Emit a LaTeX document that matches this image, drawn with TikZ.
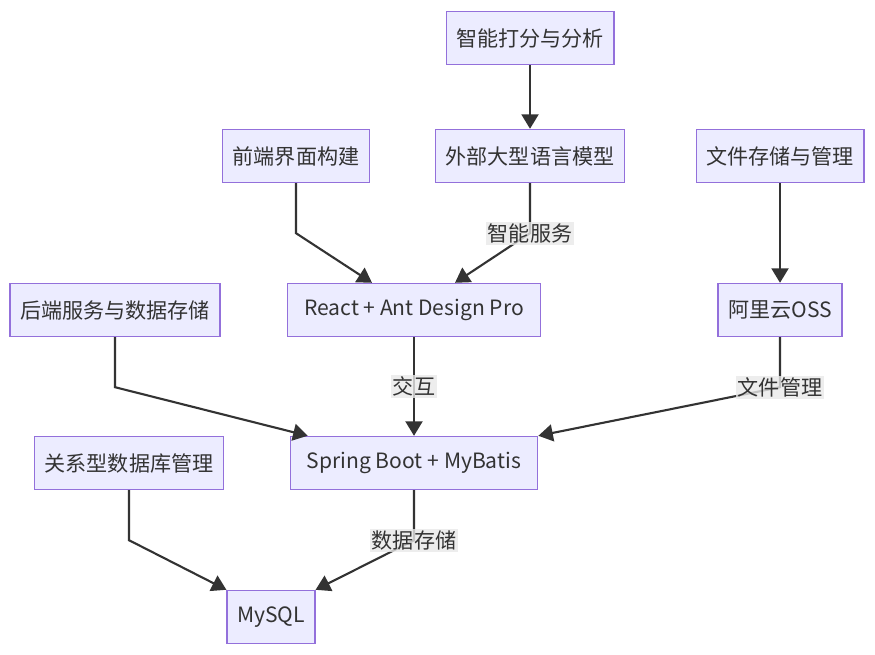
\documentclass[tikz,border=0pt]{standalone}
\usepackage{fontspec}
\setmainfont{Noto Sans CJK SC}
\usetikzlibrary{arrows.meta,calc}

\definecolor{nodefill}{HTML}{ECECFF}
\definecolor{nodeline}{HTML}{9370DB}
\definecolor{edgeline}{HTML}{333333}
\definecolor{labelfill}{HTML}{E8E8E8}

\tikzset{
  box/.style={draw=nodeline, fill=nodefill, line width=0.8pt, minimum height=1.06cm,
    inner xsep=0.2cm, text=edgeline, font=\fontsize{12pt}{14pt}\selectfont},
  widebox/.style={box, inner xsep=0.33cm},
  link/.style={draw=edgeline, line width=1.2pt, -{Triangle[length=0.29cm,width=0.34cm]}},
  tag/.style={fill=labelfill, fill opacity=0.8, text opacity=1, text=edgeline,
    inner sep=1pt, font=\fontsize{12pt}{14pt}\selectfont}
}

\begin{document}
\begin{tikzpicture}[x=0.02cm, y=-0.02cm]
    \useasboundingbox (0,0) rectangle (875,655);

    \node[box] (score) at (530,38) {智能打分与分析};
    \node[box] (front) at (296,156) {前端界面构建};
    \node[box] (llm) at (530,156) {外部大型语言模型};
    \node[box] (files) at (780,156) {文件存储与管理};
    \node[box] (back) at (115,310) {后端服务与数据存储};
    \node[widebox] (react) at (414,310) {React + Ant Design Pro};
    \node[box] (oss) at (780,310) {阿里云OSS};
    \node[box] (rdb) at (129,463) {关系型数据库管理};
    \node[widebox] (spring) at (414,463) {Spring Boot + MyBatis};
    \node[box] (mysql) at (271,617) {MySQL};

    \draw[link] (score) -- (llm);
    \draw[link] (files) -- (oss);

    \draw[link] (front.south) -- ++(0,50) -- ($(react.north)+(-42,0)$);
    \draw[link] (llm.south) -- ++(0,50) node[tag] {智能服务} -- ($(react.north)+(41,0)$);

    \draw[link] (react) -- node[tag] {交互} (spring);
    \draw[link] (back.south) -- ++(0,50) -- ($(spring.north west)+(18,0)$);
    \draw[link] (oss.south) -- ++(0,50) node[tag] {文件管理} -- (spring.north east);

    \draw[link] (rdb.south) -- ++(0,50) -- (mysql.north west);
    \draw[link] (spring.south) -- ++(0,50) node[tag] {数据存储} -- (mysql.north east);
\end{tikzpicture}
\end{document}
